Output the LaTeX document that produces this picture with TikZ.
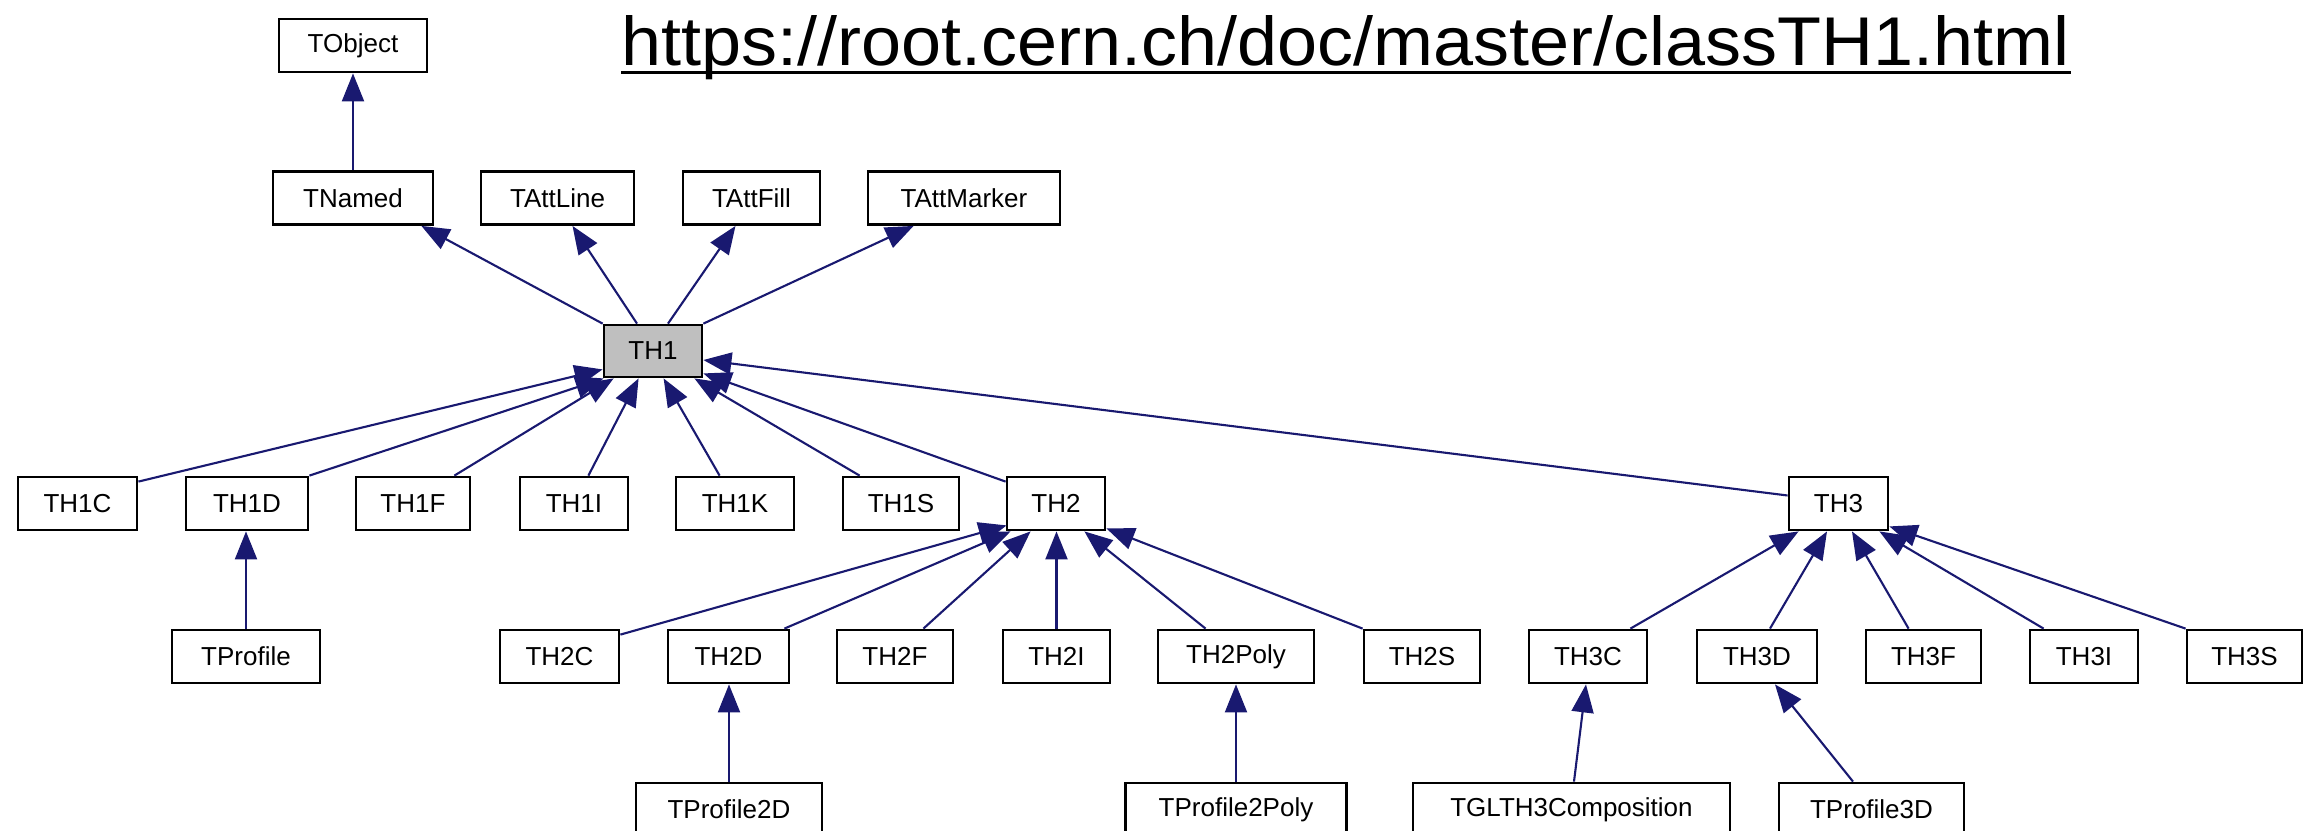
\documentclass[tikz,border=0pt]{standalone}
\usepackage{fontspec}
\setmainfont{Liberation Sans}
\IfFontExistsTF{FiraSans-Light.otf}
  {\newfontfamily\urlfont{FiraSans-Light.otf}}
  {\newfontfamily\urlfont{Liberation Sans}}
\usetikzlibrary{arrows.meta,calc}
\definecolor{edgeblue}{RGB}{25,25,112}
\definecolor{th1gray}{RGB}{191,191,191}
\begin{document}
\begin{tikzpicture}[x=0.1mm,y=-0.1mm,
  box/.style={draw=black, line width=0.8pt, minimum height=5.3mm, inner sep=0pt,
    font=\fontsize{7.4pt}{8pt}\selectfont},
  edge/.style={draw=edgeblue, line width=0.6pt, -{Triangle[length=2.8mm,width=2.2mm]}}]
\useasboundingbox (0,0) rectangle (2309,830);

% URL
\node[anchor=base west, inner sep=0pt] (url) at (621,65)
  {\resizebox{144.8mm}{5.0mm}{\urlfont https://root.cern.ch/doc/master/classTH1.html}};
\draw[line width=0.85pt] ($(url.base west)+(0,7.5)$) -- ($(url.base east)+(0,7.5)$);

% row 1-2
\node[box, minimum width=14.8mm] (tobject) at (353,45.5) {TObject};
\node[box, minimum width=16.0mm] (tnamed) at (353,198) {TNamed};
\node[box, minimum width=15.3mm] (tattline) at (557.5,198) {TAttLine};
\node[box, minimum width=13.7mm] (tattfill) at (751.5,198) {TAttFill};
\node[box, minimum width=19.2mm] (tattmarker) at (964,198) {TAttMarker};
\node[box, fill=th1gray, minimum width=9.8mm, minimum height=5.2mm] (th1) at (653,351) {TH1};

% row 3
\node[box, minimum width=11.9mm] (th1c) at (77.5,503.5) {TH1C};
\node[box, minimum width=12.2mm] (th1d) at (247,503.5) {TH1D};
\node[box, minimum width=11.4mm] (th1f) at (413,503.5) {TH1F};
\node[box, minimum width=10.8mm] (th1i) at (574,503.5) {TH1I};
\node[box, minimum width=11.8mm] (th1k) at (735,503.5) {TH1K};
\node[box, minimum width=11.6mm] (th1s) at (901,503.5) {TH1S};
\node[box, minimum width=9.8mm] (th2) at (1056,503.5) {TH2};
\node[box, minimum width=9.9mm] (th3) at (1838.5,503.5) {TH3};

% row 4
\node[box, minimum width=14.8mm] (tprofile) at (246,656.5) {TProfile};
\node[box, minimum width=11.9mm] (th2c) at (559.5,656.5) {TH2C};
\node[box, minimum width=12.1mm] (th2d) at (728.5,656.5) {TH2D};
\node[box, minimum width=11.6mm] (th2f) at (895,656.5) {TH2F};
\node[box, minimum width=10.7mm] (th2i) at (1056.5,656.5) {TH2I};
\node[box, minimum width=15.6mm] (th2poly) at (1236,656.5) {TH2Poly};
\node[box, minimum width=11.6mm] (th2s) at (1422,656.5) {TH2S};
\node[box, minimum width=11.8mm] (th3c) at (1588,656.5) {TH3C};
\node[box, minimum width=12.0mm] (th3d) at (1757,656.5) {TH3D};
\node[box, minimum width=11.5mm] (th3f) at (1923.5,656.5) {TH3F};
\node[box, minimum width=10.8mm] (th3i) at (2084,656.5) {TH3I};
\node[box, minimum width=11.5mm] (th3s) at (2244.5,656.5) {TH3S};

% row 5
\node[box, minimum width=18.6mm] (tprofile2d) at (729,809.5) {TProfile2D};
\node[box, minimum width=22.1mm] (tprofile2poly) at (1236,809.5) {TProfile2Poly};
\node[box, minimum width=31.7mm] (tglth3) at (1571.5,809.5) {TGLTH3Composition};
\node[box, minimum width=18.5mm] (tprofile3d) at (1871.5,809.5) {TProfile3D};

% edges to TObject and TH1's parents
\draw[edge] (tnamed.north) -- (tobject.south);
\draw[edge] (th1.north west) -- ($(tnamed.south east)+(-13,0)$);
\draw[edge] ($(th1.north)+(-16,0)$) -- ($(tattline.south)+(15,0)$);
\draw[edge] ($(th1.north)+(15,0)$) -- ($(tattfill.south)+(-16,0)$);
\draw[edge] (th1.north east) -- ($(tattmarker.south west)+(47,0)$);

% children of TH1
\draw[edge] ($(th1c.north east)+(0,6)$) -- ($(th1.south west)+(0,-9)$);
\draw[edge] (th1d.north east) -- ($(th1.south west)+(1,0)$);
\draw[edge] ($(th1f.north east)+(-17,0)$) -- ($(th1.south west)+(11,0)$);
\draw[edge] ($(th1i.north east)+(-41,0)$) -- ($(th1.south west)+(36,0)$);
\draw[edge] ($(th1k.north west)+(45,0)$) -- ($(th1.south west)+(61,0)$);
\draw[edge] ($(th1s.north west)+(18,0)$) -- ($(th1.south east)+(-9,0)$);
\draw[edge] ($(th2.north west)+(0,6)$) -- ($(th1.south east)+(0,-5)$);
\draw[edge] ($(th3.west)+(0,-8)$) -- ($(th1.east)+(0,9)$);

% children of TH2
\draw[edge] ($(th2c.north east)+(0,6)$) -- ($(th2.south west)+(1,-6)$);
\draw[edge] ($(th2d.north east)+(-6,0)$) -- ($(th2.south west)+(5,0)$);
\draw[edge] ($(th2f.north east)+(-31,0)$) -- ($(th2.south west)+(25,0)$);
\draw[edge] (th2i.north) -- (th2i.north |- th2.south);
\draw[edge] ($(th2poly.north west)+(49,0)$) -- ($(th2.south east)+(-22,0)$);
\draw[edge] (th2s.north west) -- ($(th2.south east)+(0,-3)$);

% children of TH3
\draw[edge] ($(th3c.north east)+(-18,0)$) -- ($(th3.south west)+(11,0)$);
\draw[edge] ($(th3d.north)+(13,0)$) -- ($(th3.south)+(-11.5,0)$);
\draw[edge] ($(th3f.north west)+(44,0)$) -- ($(th3.south)+(13.5,0)$);
\draw[edge] ($(th3i.north west)+(15,0)$) -- ($(th3.south east)+(-10,0)$);
\draw[edge] (th3s.north west) -- ($(th3.south east)+(0,-5)$);

% bottom row
\draw[edge] (tprofile.north) -- (tprofile.north |- th1d.south);
\draw[edge] (tprofile2d.north) -- (tprofile2d.north |- th2d.south);
\draw[edge] (tprofile2poly.north) -- (tprofile2poly.north |- th2poly.south);
\draw[edge] ($(tglth3.north)+(2.5,0)$) -- ($(th3c.south)+(-2,0)$);
\draw[edge] ($(tprofile3d.north)+(-18.5,0)$) -- ($(th3d.south)+(18,0)$);
\end{tikzpicture}
\end{document}
